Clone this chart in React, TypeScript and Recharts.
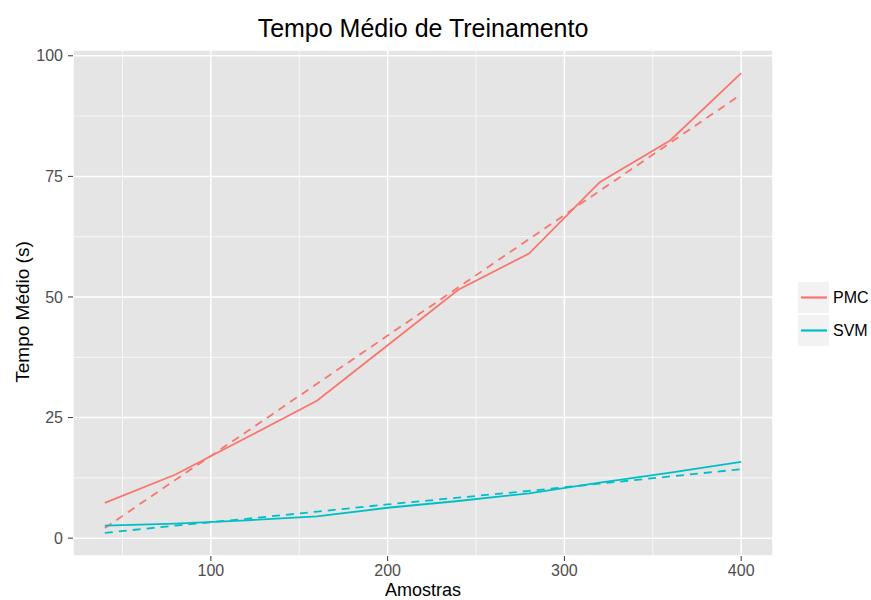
import React from "react";
import { LineChart, Line, XAxis, YAxis, CartesianGrid, ReferenceLine } from "recharts";

const samples = [40, 80, 120, 160, 200, 240, 280, 320, 360, 400];
const pmcMean = [7.3, 13.2, 20.8, 28.5, 40.0, 51.5, 59.0, 73.8, 82.5, 96.4];
const pmcFit = [2.1, 12.1, 22.0, 32.0, 42.0, 52.0, 62.0, 72.0, 82.0, 92.0];
const svmMean = [2.6, 3.0, 3.7, 4.5, 6.3, 7.7, 9.3, 11.5, 13.6, 15.8];
const svmFit = [1.1, 2.6, 4.0, 5.5, 7.0, 8.4, 9.8, 11.3, 12.8, 14.3];

const xTicks = [100, 200, 300, 400];
const yTicks = [0, 25, 50, 75, 100];
const xMinor = [50, 150, 250, 350];
const yMinor = [12.5, 37.5, 62.5, 87.5];

const seriesNames = ["PMC", "SVM"];
const seriesColors = ["#F8766D", "#00BFC4"];

const title = "Tempo Médio de Treinamento";
const xTitle = "Amostras";
const yTitle = "Tempo Médio (s)";

const data = samples.map((s, i) => ({
  x: s,
  pmc: pmcMean[i],
  pmcFit: pmcFit[i],
  svm: svmMean[i],
  svmFit: svmFit[i],
}));

const FONT = "'Liberation Sans', Arial, Helvetica, sans-serif";

export default function App() {
  return (
    <div style={{ position: "absolute", left: 0, top: 0, width: 871, height: 600, background: "#FFFFFF", fontFamily: FONT }}>
      <LineChart
        width={871}
        height={600}
        data={data}
        margin={{ top: 50, right: 98, bottom: 0, left: 0 }}
      >
        <CartesianGrid fill="#E5E5E5" stroke="#FFFFFF" strokeWidth={1.5} />
        {xMinor.map((v) => (
          <ReferenceLine key={"xm" + v} x={v} stroke="#FFFFFF" strokeWidth={0.7} />
        ))}
        {yMinor.map((v) => (
          <ReferenceLine key={"ym" + v} y={v} stroke="#FFFFFF" strokeWidth={0.7} />
        ))}
        <XAxis
          dataKey="x"
          type="number"
          domain={[22, 418]}
          ticks={xTicks}
          allowDataOverflow
          height={44}
          axisLine={false}
          tickSize={5}
          tickMargin={4}
          tickLine={{ stroke: "#333333", strokeWidth: 1 }}
          tick={{ fill: "#4D4D4D", fontSize: 16, fontFamily: FONT }}
        />
        <YAxis
          type="number"
          domain={[-3.7, 101.2]}
          ticks={yTicks}
          allowDataOverflow
          width={73}
          axisLine={false}
          tickSize={5}
          tickMargin={5}
          tickLine={{ stroke: "#333333", strokeWidth: 1 }}
          tick={{ fill: "#4D4D4D", fontSize: 16, fontFamily: FONT }}
        />
        <Line dataKey="pmcFit" stroke={seriesColors[0]} strokeWidth={1.8} strokeDasharray="8 6" dot={false} isAnimationActive={false} />
        <Line dataKey="svmFit" stroke={seriesColors[1]} strokeWidth={1.8} strokeDasharray="8 6" dot={false} isAnimationActive={false} />
        <Line dataKey="pmc" stroke={seriesColors[0]} strokeWidth={1.8} dot={false} isAnimationActive={false} />
        <Line dataKey="svm" stroke={seriesColors[1]} strokeWidth={1.8} dot={false} isAnimationActive={false} />
      </LineChart>
      <svg
        width={871}
        height={600}
        style={{ position: "absolute", left: 0, top: 0, pointerEvents: "none" }}
      >
        <text x={423} y={37} textAnchor="middle" fontSize={25} fill="#000000" fontFamily={FONT}>
          {title}
        </text>
        <text x={423} y={596} textAnchor="middle" fontSize={18} fill="#000000" fontFamily={FONT}>
          {xTitle}
        </text>
        <text
          transform="translate(28.5,312) rotate(-90)"
          textAnchor="middle"
          fontSize={19}
          fill="#000000"
          fontFamily={FONT}
        >
          {yTitle}
        </text>
        {seriesNames.map((name, i) => (
          <g key={name}>
            <rect x={798} y={282 + i * 33} width={31} height={31} fill="#F2F2F2" />
            <line x1={801} x2={827} y1={297.5 + i * 33} y2={297.5 + i * 33} stroke={seriesColors[i]} strokeWidth={2.2} />
            <text x={833} y={303.3 + i * 33} fontSize={16} fill="#000000" fontFamily={FONT}>
              {name}
            </text>
          </g>
        ))}
      </svg>
    </div>
  );
}
